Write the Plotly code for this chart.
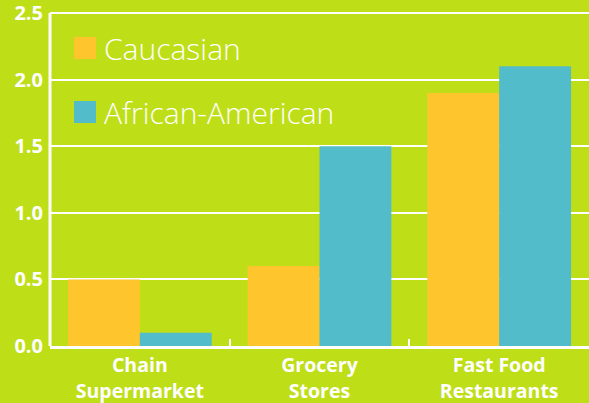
import plotly.graph_objects as go

categories = ["Chain<br>Supermarket", "Grocery<br>Stores", "Fast Food<br>Restaurants"]
series_names = ["Caucasian", "African-American"]
caucasian = [0.5, 0.6, 1.9]
african_american = [0.1, 1.5, 2.1]
y_ticks = [0.0, 0.5, 1.0, 1.5, 2.0, 2.5]

BG = "#BEDE18"
ORANGE = "#FEC62C"
BLUE = "#52BCCA"
WHITE = "#FFFFFF"

W, H = 589, 403
ML, MR, MT, MB = 50, 0, 8, 57
PW, PH = W - ML - MR, H - MT - MB
Y0 = H - MB  # pixel row of the x axis
PX_PER_UNIT = 333 / 2.5


def px_x(x):
    return (x - ML) / PW


def px_y(y):
    return (Y0 - y) / PH


fig = go.Figure()
fig.add_trace(go.Bar(x=categories, y=caucasian, name=series_names[0],
                     marker=dict(color=ORANGE, line=dict(width=0))))
fig.add_trace(go.Bar(x=categories, y=african_american, name=series_names[1],
                     marker=dict(color=BLUE, line=dict(width=0))))

# top gridline (at the last y tick)
fig.add_shape(type="line", xref="paper", yref="y", x0=0, x1=1,
              y0=y_ticks[-1], y1=y_ticks[-1],
              line=dict(color=WHITE, width=2), layer="below")
# y axis line from first to last tick
fig.add_shape(type="line", xref="paper", yref="y", x0=0, x1=0,
              y0=y_ticks[0], y1=y_ticks[-1],
              line=dict(color=WHITE, width=3), layer="above")

# legend drawn as swatches + labels
for i, (nm, col) in enumerate(zip(series_names, [ORANGE, BLUE])):
    yc = 48 + 64 * i
    fig.add_shape(type="rect", xref="paper", yref="paper",
                  x0=px_x(74), x1=px_x(96),
                  y0=px_y(yc + 11), y1=px_y(yc - 11),
                  fillcolor=col, line=dict(width=0), layer="above")
    fig.add_annotation(text=nm, xref="paper", yref="paper",
                       x=px_x(102), y=px_y(yc), xanchor="left", yanchor="middle",
                       showarrow=False,
                       font=dict(family="Open Sans", size=30, color=WHITE, weight=300))

fig.update_layout(
    width=W, height=H,
    margin=dict(l=ML, r=MR, t=MT, b=MB, pad=0, autoexpand=False),
    paper_bgcolor=BG, plot_bgcolor=BG,
    barmode="group", bargap=0.2, bargroupgap=0,
    showlegend=False,
    font=dict(family="Open Sans", color=WHITE),
)
fig.update_xaxes(
    automargin=False,
    showline=True, linecolor=WHITE, linewidth=3,
    ticks="inside", tickson="boundaries", ticklen=7, tickwidth=2, tickcolor=WHITE,
    tickfont=dict(family="Open Sans", size=19.5, color=WHITE, weight="bold"),
    showgrid=False, range=[-0.5, 2.5],
)
fig.update_yaxes(
    automargin=False,
    range=[0, PH / PX_PER_UNIT], tickvals=y_ticks, ticktext=[f"{v:.1f}" for v in y_ticks],
    showline=False,
    showgrid=True, gridcolor=WHITE, gridwidth=2, zeroline=False,
    ticks="", ticklabelstandoff=6, ticklabeloverflow="allow",
    tickfont=dict(family="Open Sans", size=20, color=WHITE, weight="bold"),
)

fig.write_html("out.html", config={"displayModeBar": False},
               post_script="document.body.style.margin='0px';")
